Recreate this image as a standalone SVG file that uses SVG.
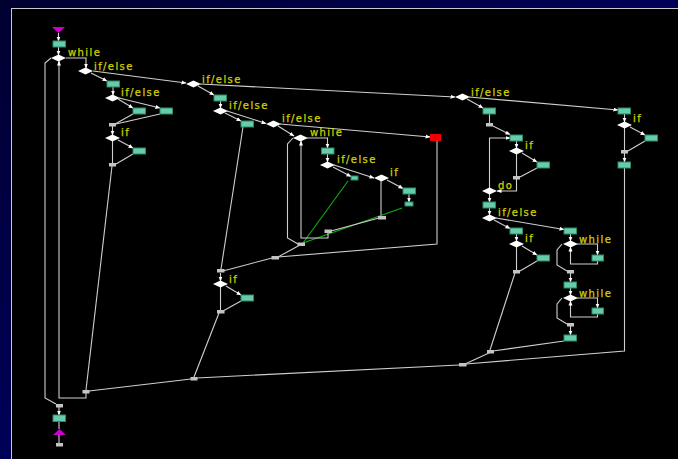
<svg xmlns="http://www.w3.org/2000/svg" width="678" height="459" viewBox="0 0 678 459">
<defs>
<linearGradient id="bg" x1="0" y1="0" x2="1" y2="1">
<stop offset="0" stop-color="#000030"/>
<stop offset="0.5" stop-color="#000058"/>
<stop offset="1" stop-color="#000088"/>
</linearGradient>
<marker id="a" markerWidth="5" markerHeight="5" refX="4.5" refY="2.5" orient="auto" markerUnits="userSpaceOnUse">
<path d="M0,0.5 L5,2.5 L0,4.5z" fill="#ffffff"/>
</marker>
<style>
.e{fill:none;stroke:#cfcfcf;stroke-width:1.1}
.eg{fill:none;stroke:#10b010;stroke-width:1.1}
.g{fill:#66ccaa;stroke:#2a8a68;stroke-width:1}
.m{fill:#c4c4c4}
.d{fill:#ffffff}
.l{fill:#d2d200;font-family:"DejaVu Sans",sans-serif;font-size:10px;letter-spacing:1.4px;stroke:#d2d200;stroke-width:0.25}
</style>
</defs>
<rect x="0" y="0" width="678" height="459" fill="url(#bg)"/>
<rect x="11.5" y="8.5" width="667" height="451" fill="#000000" stroke="#c8c8d0" stroke-width="1"/>

<g id="connectors">
<path class="e" d="M58.5,33 V41" marker-end="url(#a)"/>
<path class="e" d="M58.5,47 V55" marker-end="url(#a)"/>
<path class="e" d="M66,58 H86 V68" marker-end="url(#a)"/>
<path class="e" d="M91,73 L107,81" marker-end="url(#a)"/>
<path class="e" d="M93,71 L186,83" marker-end="url(#a)"/>
<path class="e" d="M113,87 V95" marker-end="url(#a)"/>
<path class="e" d="M118,99 L133,108" marker-end="url(#a)"/>
<path class="e" d="M119,98 L160,108" marker-end="url(#a)"/>
<path class="e" d="M133,114 L116,123.5"/>
<path class="e" d="M160,114 L116,124"/>
<path class="e" d="M112.5,126 V135" marker-end="url(#a)"/>
<path class="e" d="M118,140 L133,148" marker-end="url(#a)"/>
<path class="e" d="M112.5,141 V163"/>
<path class="e" d="M133,154 L116,164"/>
<path class="e" d="M112,166 L86,390"/>
<path class="e" d="M198,86 L214,95" marker-end="url(#a)"/>
<path class="e" d="M200,84 L455,97" marker-end="url(#a)"/>
<path class="e" d="M220.5,101 V108" marker-end="url(#a)"/>
<path class="e" d="M225,113 L241,121" marker-end="url(#a)"/>
<path class="e" d="M227,111 L266,123.5" marker-end="url(#a)"/>
<path class="e" d="M243,127 L221,269"/>
<path class="e" d="M280,124 L430,137" marker-end="url(#a)"/>
<path class="e" d="M278,126 L294,136" marker-end="url(#a)"/>
<path class="e" d="M437,141 V244 L278,257"/>
<path class="e" d="M307,138 H327.5 V148" marker-end="url(#a)"/>
<path class="e" d="M327.5,154 V162" marker-end="url(#a)"/>
<path class="e" d="M333,167 L351,176.5" marker-end="url(#a)"/>
<path class="e" d="M334,165 L374,178" marker-end="url(#a)"/>
<path class="e" d="M387,180 L403,188.5" marker-end="url(#a)"/>
<path class="e" d="M409,194 V202" marker-end="url(#a)"/>
<path class="e" d="M381,181 V216"/>
<path class="eg" d="M348,181 L303,243"/>
<path class="eg" d="M402,208 L303,243"/>
<path class="e" d="M379,218 L331,231"/>
<path class="e" d="M328,233 V238 H301 V141" marker-end="url(#a)"/>
<path class="e" d="M293,138 L287.5,144 V238 L298,244"/>
<path class="e" d="M300,245 L278,257"/>
<path class="e" d="M272,258 L223,271"/>
<path class="e" d="M220.5,273 V281" marker-end="url(#a)"/>
<path class="e" d="M226,286 L241,295" marker-end="url(#a)"/>
<path class="e" d="M220.5,287 V310"/>
<path class="e" d="M241,301 L223,311"/>
<path class="e" d="M219,313 L194,377"/>
<path class="e" d="M467,99 L483,108" marker-end="url(#a)"/>
<path class="e" d="M469,97 L618,110" marker-end="url(#a)"/>
<path class="e" d="M489.5,114 V123"/>
<path class="e" d="M493,126 L510,134.5" marker-end="url(#a)"/>
<path class="e" d="M516.5,141 V148" marker-end="url(#a)"/>
<path class="e" d="M522,153 L537,162" marker-end="url(#a)"/>
<path class="e" d="M516.5,154 V176"/>
<path class="e" d="M537,168 L520,177"/>
<path class="e" d="M516.5,179 V191 H497" marker-end="url(#a)"/>
<path class="e" d="M489.5,188 V138 H510" marker-end="url(#a)"/>
<path class="e" d="M489.5,194 V202" marker-end="url(#a)"/>
<path class="e" d="M489.5,208 V215" marker-end="url(#a)"/>
<path class="e" d="M494,220 L510,228.5" marker-end="url(#a)"/>
<path class="e" d="M496,218 L564,229.5" marker-end="url(#a)"/>
<path class="e" d="M516.5,234 V241" marker-end="url(#a)"/>
<path class="e" d="M522,246 L537,255" marker-end="url(#a)"/>
<path class="e" d="M516.5,247 V270"/>
<path class="e" d="M537,261 L520,271"/>
<path class="e" d="M515,273 L490,350"/>
<path class="e" d="M570.5,234 V241" marker-end="url(#a)"/>
<path class="e" d="M577,244 H597.5 V255" marker-end="url(#a)"/>
<path class="e" d="M597.5,261 V264 H570.5 V247" marker-end="url(#a)"/>
<path class="e" d="M562,244 L557,250 V265 L567,271"/>
<path class="e" d="M570.5,273 V282" marker-end="url(#a)"/>
<path class="e" d="M570.5,288 V295" marker-end="url(#a)"/>
<path class="e" d="M577,298 H597.5 V308" marker-end="url(#a)"/>
<path class="e" d="M597.5,314 V317 H570.5 V301" marker-end="url(#a)"/>
<path class="e" d="M562,298 L557,304 V318 L567,324"/>
<path class="e" d="M570.5,326 V335" marker-end="url(#a)"/>
<path class="e" d="M564,341 L493,351"/>
<path class="e" d="M489,353 L465,364"/>
<path class="e" d="M624.5,114 V122" marker-end="url(#a)"/>
<path class="e" d="M630,127 L645,135" marker-end="url(#a)"/>
<path class="e" d="M624.5,128 V150"/>
<path class="e" d="M645,141 L628,151"/>
<path class="e" d="M624.5,153 V162" marker-end="url(#a)"/>
<path class="e" d="M624.5,168 V351 L466,364"/>
<path class="e" d="M459,365 L197,378"/>
<path class="e" d="M191,379 L89,391"/>
<path class="e" d="M86,393 V398 H59 V61" marker-end="url(#a)"/>
<path class="e" d="M51,58 L45,63 V398 L56,404"/>
<path class="e" d="M59,407 V415" marker-end="url(#a)"/>
<path class="e" d="M59,422 V429"/>
<path class="e" d="M59,435 V443"/>
</g>

<g id="start"><polygon points="52,27 65,27 58.5,33" fill="#cc00cc"/></g>
<g id="g0"><rect class="g" x="53" y="41" width="12.5" height="6"/></g>
<g id="w1"><polygon class="d" points="51,58 58.5,54.5 66,58 58.5,61.5"/><text class="l" x="68" y="56">while</text></g>
<g id="ie1"><polygon class="d" points="78,71 85.5,67.5 93,71 85.5,74.5"/><text class="l" x="94" y="70">if/else</text></g>
<g id="g1"><rect class="g" x="107" y="81" width="12.5" height="6"/></g>
<g id="ie1a"><polygon class="d" points="105,98 112.5,94.5 120,98 112.5,101.5"/><text class="l" x="121" y="96">if/else</text></g>
<g id="g2"><rect class="g" x="133" y="108" width="12.5" height="6"/></g>
<g id="g3"><rect class="g" x="160" y="108" width="12.5" height="6"/></g>
<g id="m1"><rect class="m" x="109" y="123" width="7" height="3.5"/></g>
<g id="if1"><polygon class="d" points="105,138 112.5,134.5 120,138 112.5,141.5"/><text class="l" x="121" y="136">if</text></g>
<g id="g4"><rect class="g" x="133" y="148" width="12.5" height="6"/></g>
<g id="m2"><rect class="m" x="109" y="163" width="7" height="3.5"/></g>
<g id="ie2"><polygon class="d" points="186,84 193.5,80.5 201,84 193.5,87.5"/><text class="l" x="202" y="83">if/else</text></g>
<g id="g5"><rect class="g" x="214" y="95" width="12.5" height="6"/></g>
<g id="ie2a"><polygon class="d" points="213,111 220.5,107.5 228,111 220.5,114.5"/><text class="l" x="229" y="109">if/else</text></g>
<g id="g6"><rect class="g" x="241" y="121" width="12.5" height="6"/></g>
<g id="ie2b"><polygon class="d" points="266,124 273.5,120.5 281,124 273.5,127.5"/><text class="l" x="282" y="122">if/else</text></g>
<g id="red"><rect x="430" y="134" width="11" height="7" fill="#ee0000"/></g>
<g id="w2"><polygon class="d" points="293,138 300.5,134.5 308,138 300.5,141.5"/><text class="l" x="310" y="136">while</text></g>
<g id="g7"><rect class="g" x="321.5" y="148" width="12.5" height="6"/></g>
<g id="ie3"><polygon class="d" points="320,165 327.5,161.5 335,165 327.5,168.5"/><text class="l" x="337" y="163">if/else</text></g>
<g id="gs1"><rect class="g" x="351" y="176" width="7" height="4"/></g>
<g id="if2"><polygon class="d" points="374,178 381.5,174.5 389,178 381.5,181.5"/><text class="l" x="390" y="176">if</text></g>
<g id="g8"><rect class="g" x="403" y="188" width="12.5" height="6"/></g>
<g id="gs2"><rect class="g" x="405" y="202" width="8" height="4"/></g>
<g id="m3"><rect class="m" x="378" y="216" width="8" height="3.5"/></g>
<g id="m4"><rect class="m" x="324.5" y="229.5" width="7.5" height="3.5"/></g>
<g id="m5"><rect class="m" x="297.5" y="242.5" width="7.5" height="3.5"/></g>
<g id="m6"><rect class="m" x="271.5" y="256" width="7.5" height="3.5"/></g>
<g id="m7"><rect class="m" x="217" y="269" width="7.5" height="3.5"/></g>
<g id="if3"><polygon class="d" points="213,284 220.5,280.5 228,284 220.5,287.5"/><text class="l" x="229" y="283">if</text></g>
<g id="g9"><rect class="g" x="241" y="295" width="12.5" height="6"/></g>
<g id="m8"><rect class="m" x="217" y="310" width="7.5" height="3.5"/></g>
<g id="ie4"><polygon class="d" points="455,97 462.5,93.5 470,97 462.5,100.5"/><text class="l" x="471" y="96">if/else</text></g>
<g id="g10"><rect class="g" x="483" y="108" width="12.5" height="6"/></g>
<g id="m9"><rect class="m" x="486" y="123" width="7" height="3.5"/></g>
<g id="g11"><rect class="g" x="510" y="135" width="12.5" height="6"/></g>
<g id="if4"><polygon class="d" points="509,151 516.5,147.5 524,151 516.5,154.5"/><text class="l" x="525" y="149">if</text></g>
<g id="g12"><rect class="g" x="537" y="162" width="12.5" height="6"/></g>
<g id="m10"><rect class="m" x="513" y="176" width="7" height="3.5"/></g>
<g id="do"><polygon class="d" points="482,191 489.5,187.5 497,191 489.5,194.5"/><text class="l" x="498" y="189">do</text></g>
<g id="g13"><rect class="g" x="483" y="202" width="12.5" height="6"/></g>
<g id="ie5"><polygon class="d" points="482,218 489.5,214.5 497,218 489.5,221.5"/><text class="l" x="498" y="216">if/else</text></g>
<g id="g14"><rect class="g" x="510" y="228" width="12.5" height="6"/></g>
<g id="if5"><polygon class="d" points="509,244 516.5,240.5 524,244 516.5,247.5"/><text class="l" x="525" y="242">if</text></g>
<g id="g15"><rect class="g" x="537" y="255" width="12.5" height="6"/></g>
<g id="m11"><rect class="m" x="513" y="270" width="7" height="3.5"/></g>
<g id="g16"><rect class="g" x="564" y="228" width="12.5" height="6"/></g>
<g id="w3"><polygon class="d" points="563,244 570.5,240.5 578,244 570.5,247.5"/><text class="l" x="579" y="243">while</text></g>
<g id="g17"><rect class="g" x="592" y="255" width="11.5" height="6"/></g>
<g id="m12"><rect class="m" x="567" y="270" width="7" height="3.5"/></g>
<g id="g18"><rect class="g" x="564" y="282" width="12.5" height="6"/></g>
<g id="w4"><polygon class="d" points="563,298 570.5,294.5 578,298 570.5,301.5"/><text class="l" x="579" y="297">while</text></g>
<g id="g19"><rect class="g" x="592" y="308" width="11.5" height="6"/></g>
<g id="m13"><rect class="m" x="567" y="323" width="7" height="3.5"/></g>
<g id="g20"><rect class="g" x="564" y="335" width="12.5" height="6"/></g>
<g id="m14"><rect class="m" x="487" y="350" width="7" height="3.5"/></g>
<g id="g21"><rect class="g" x="618" y="108" width="12.5" height="6"/></g>
<g id="if6"><polygon class="d" points="617,125 624.5,121.5 632,125 624.5,128.5"/><text class="l" x="633" y="122">if</text></g>
<g id="g22"><rect class="g" x="645" y="135" width="12.5" height="6"/></g>
<g id="m15"><rect class="m" x="621" y="150" width="7" height="3.5"/></g>
<g id="g23"><rect class="g" x="618" y="162" width="12.5" height="6"/></g>
<g id="m16"><rect class="m" x="459" y="363" width="7.5" height="3.5"/></g>
<g id="m17"><rect class="m" x="190.5" y="377" width="7" height="3.5"/></g>
<g id="m18"><rect class="m" x="82.5" y="390" width="7" height="3.5"/></g>
<g id="m19"><rect class="m" x="56" y="404" width="7" height="3.5"/></g>
<g id="g24"><rect class="g" x="53" y="415" width="12.5" height="6.5"/></g>
<g id="end"><polygon points="53,435 66,435 59.5,429" fill="#cc00cc"/></g>
<g id="m20"><rect class="m" x="56" y="443" width="7" height="3.5"/></g>
</svg>
